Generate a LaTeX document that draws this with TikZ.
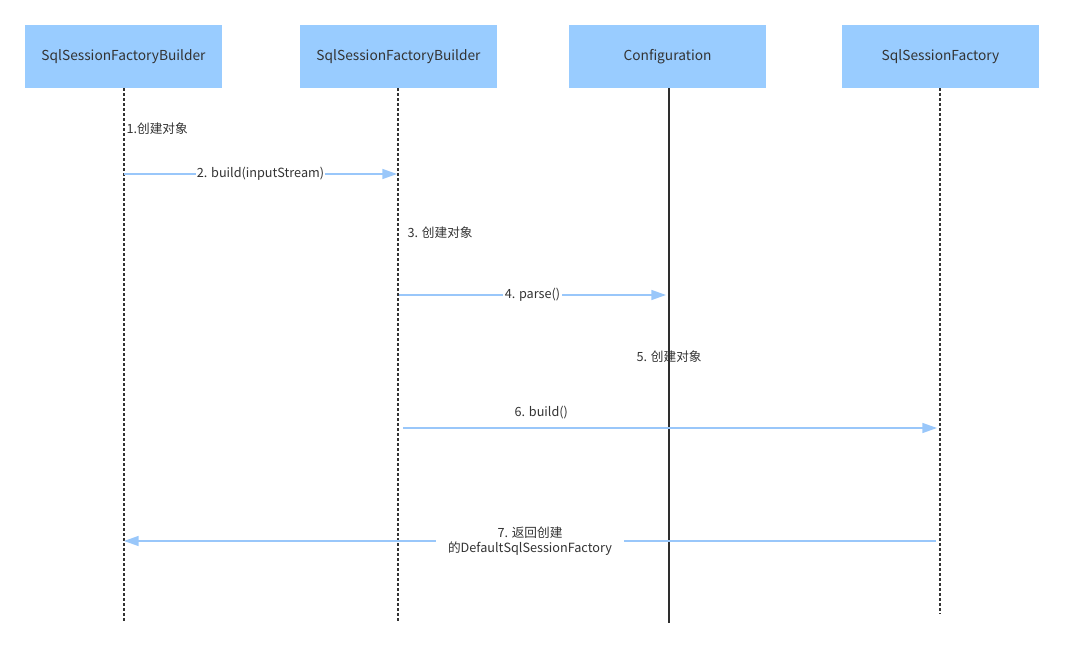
\documentclass[tikz,border=0pt]{standalone}
\usepackage{fontspec}
\setmainfont{Noto Sans CJK SC}
\usetikzlibrary{arrows.meta}

\definecolor{boxblue}{RGB}{153,204,255}
\definecolor{msgblue}{RGB}{153,199,250}
\definecolor{txtgray}{RGB}{51,51,51}

\tikzset{
    obj/.style={fill=boxblue, minimum width=147.75pt, minimum height=47.25pt, inner sep=0pt, text=txtgray, font=\fontsize{10.3}{12}\selectfont},
    life/.style={line width=1.5pt, dash pattern=on 2.25pt off 1.5pt, txtgray},
    solidlife/.style={line width=1.5pt, txtgray!90!black},
    msg/.style={line width=1.1pt, msgblue, -{Triangle[length=11pt, width=7.5pt]}},
    lbl/.style={text=txtgray, font=\fontsize{9.5}{11.5}\selectfont, inner sep=1pt},
}

\begin{document}
\begin{tikzpicture}[x=0.75pt, y=-0.75pt]
    \useasboundingbox (0,0) rectangle (1065,649);

    % objects
    \node[obj] (B1) at (123.5,56.5) {SqlSessionFactoryBuilder};
    \node[obj] (B2) at (398.5,56.5) {SqlSessionFactoryBuilder};
    \node[obj] (C) at (667.5,56.5) {Configuration};
    \node[obj] (F) at (940.5,56.5) {SqlSessionFactory};

    % lifelines
    \coordinate (B1end) at (124,623);
    \coordinate (B2end) at (398,623);
    \coordinate (Cend) at (669,623);
    \coordinate (Fend) at (940,614);
    \draw[life] (B1.south -| B1end) -- (B1end);
    \draw[life] (B2.south -| B2end) -- (B2end);
    \draw[solidlife] (C.south -| Cend) -- (Cend);
    \draw[life] (F.south -| Fend) -- (Fend);

    % message ends
    \coordinate (m2a) at (124,174);
    \coordinate (m2b) at (397,174);
    \coordinate (m4a) at (399,295);
    \coordinate (m4b) at (666,295);
    \coordinate (m6a) at (403,428);
    \coordinate (m6b) at (937,428);
    \coordinate (m7a) at (936,541);
    \coordinate (m7b) at (124,541);

    \node[lbl, anchor=west] (n1) at (125,129) {1.创建对象};
    \draw[msg] (m2a) -- (m2b) node[lbl, midway, fill=white] (n2) {2. build(inputStream)};
    \node[lbl, anchor=west] (n3) at (406,233) {3. 创建对象};
    \draw[msg] (m4a) -- (m4b) node[lbl, midway, fill=white] (n4) {4. parse()};
    \node[lbl, anchor=west] (n5) at (635,357) {5. 创建对象};
    \draw[msg] (m6a) -- (m6b) node[lbl, pos=0.259, above=5pt] (n6) {6. build()};
    \draw[msg] (m7a) -- (m7b) node[lbl, pos=0.5, fill=white, align=center, inner xsep=9pt] (n7) {7. 返回创建\\的DefaultSqlSessionFactory};
\end{tikzpicture}
\end{document}
